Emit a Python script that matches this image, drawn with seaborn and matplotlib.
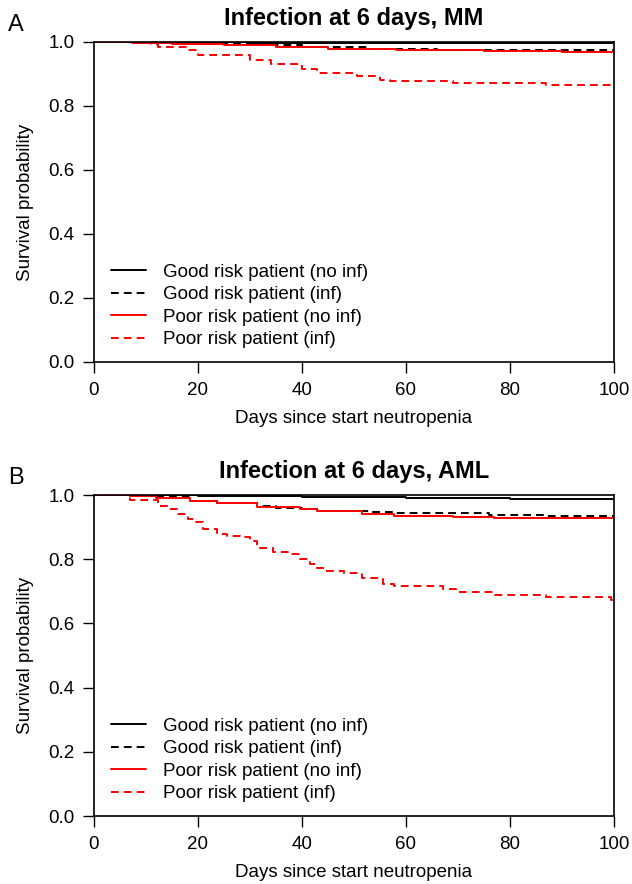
import numpy as np
import pandas as pd
import matplotlib
matplotlib.use("Agg")
import matplotlib.pyplot as plt
import seaborn as sns

sns.set_style("ticks")
plt.rcParams['font.family'] = ['Liberation Sans', 'DejaVu Sans']
plt.rcParams['text.color'] = 'black'
plt.rcParams['axes.labelcolor'] = 'black'

labels = ["Good risk patient (no inf)", "Good risk patient (inf)",
          "Poor risk patient (no inf)", "Poor risk patient (inf)"]
colors = ["black", "black", "red", "red"]
styles = ["-", "--", "-", "--"]

# MM panel (days, survival) step curves
mm_good_noinf_t = [0, 8, 30, 60, 100]
mm_good_noinf_s = [1.0, 0.999, 0.998, 0.997, 0.997]
mm_good_inf_t = [0, 8, 17, 30, 40, 53, 66, 100]
mm_good_inf_s = [1.0, 0.998, 0.995, 0.99, 0.985, 0.978, 0.975, 0.973]
mm_poor_noinf_t = [0, 8, 15, 25, 35, 45, 58, 75, 90, 100]
mm_poor_noinf_s = [1.0, 0.998, 0.994, 0.99, 0.985, 0.979, 0.974, 0.971, 0.968, 0.967]
mm_poor_inf_t = [0, 7, 11, 12.3, 18, 20, 30, 34, 40, 42.8, 50.5, 55, 57, 69, 87, 99.5, 100]
mm_poor_inf_s = [1.0, 0.997, 0.993, 0.985, 0.975, 0.96, 0.945, 0.93, 0.915, 0.904,
                 0.894, 0.882, 0.879, 0.872, 0.865, 0.858, 0.858]

# AML panel
aml_good_noinf_t = [0, 7, 20, 40, 60, 80, 100]
aml_good_noinf_s = [1.0, 0.999, 0.996, 0.993, 0.99, 0.987, 0.985]
aml_good_inf_t = [0, 7, 12, 18.5, 23.6, 31.3, 35, 40, 42.8, 53, 58, 76, 87, 100]
aml_good_inf_s = [1.0, 0.997, 0.993, 0.982, 0.975, 0.967, 0.96, 0.957, 0.951, 0.946,
                  0.944, 0.939, 0.935, 0.932]
aml_poor_noinf_t = [0, 7, 12, 18.5, 23.6, 31.3, 39.6, 42.8, 51.5, 57.6, 69, 77, 87, 100]
aml_poor_noinf_s = [1.0, 0.997, 0.99, 0.982, 0.974, 0.964, 0.957, 0.949, 0.942, 0.936,
                    0.931, 0.929, 0.927, 0.922]
aml_poor_inf_t = [0, 7, 12.4, 14.3, 16.2, 18.1, 19.7, 21.0, 23.6, 25.5, 28.1, 30, 31.3,
                  34.5, 37.7, 39.6, 41.5, 42.8, 44.7, 48, 51.5, 55.6, 57.6, 67.2, 69.7,
                  77.1, 87, 99.5, 100]
aml_poor_inf_s = [1.0, 0.985, 0.965, 0.956, 0.941, 0.925, 0.915, 0.894, 0.878, 0.873,
                  0.868, 0.857, 0.836, 0.821, 0.816, 0.80, 0.784, 0.772, 0.763, 0.756,
                  0.74, 0.722, 0.717, 0.708, 0.699, 0.69, 0.683, 0.672, 0.665]

panels = [
    ("A", "Infection at 6 days, MM",
     [(mm_good_noinf_t, mm_good_noinf_s), (mm_good_inf_t, mm_good_inf_s),
      (mm_poor_noinf_t, mm_poor_noinf_s), (mm_poor_inf_t, mm_poor_inf_s)]),
    ("B", "Infection at 6 days, AML",
     [(aml_good_noinf_t, aml_good_noinf_s), (aml_good_inf_t, aml_good_inf_s),
      (aml_poor_noinf_t, aml_poor_noinf_s), (aml_poor_inf_t, aml_poor_inf_s)]),
]

fig = plt.figure(figsize=(6.32, 8.84), dpi=100)
ax_pos = [[0.1487, 0.5905, 0.8228, 0.362], [0.1487, 0.0769, 0.8228, 0.3631]]
letter_y = [1 - 31 / 884, 1 - 484 / 884]

for (letter, title, curves), pos, ly in zip(panels, ax_pos, letter_y):
    ax = fig.add_axes(pos)
    for (t, s), lab, c, ls in zip(curves, labels, colors, styles):
        df = pd.DataFrame({"days": t, "surv": s})
        sns.lineplot(data=df, x="days", y="surv", ax=ax, color=c, linestyle=ls,
                     drawstyle="steps-post", linewidth=1.4, label=lab,
                     estimator=None, sort=False)
    for line in ax.get_lines():
        if line.get_linestyle() == "--":
            line.set_dashes((4, 2.6))
    ax.set_xlim(0, 100)
    ax.set_ylim(0, 1.0)
    ax.set_xticks(np.arange(0, 101, 20))
    ax.set_yticks(np.arange(0, 1.01, 0.2))
    ax.set_yticklabels([f"{v:.1f}" for v in np.arange(0, 1.01, 0.2)])
    ax.tick_params(direction="out", length=8, width=1, labelsize=13.5, colors="black")
    ax.tick_params(axis="x", pad=6.5)
    ax.tick_params(axis="y", pad=6)
    for sp in ax.spines.values():
        sp.set_visible(True)
        sp.set_linewidth(1.2)
        sp.set_color("black")
    ax.set_xlabel("Days since start neutropenia", fontsize=13.5, labelpad=8)
    ax.set_ylabel("Survival probability", fontsize=13.5, labelpad=10)
    ax.set_title(title, fontsize=17, fontweight="bold", pad=12)
    leg = ax.legend(loc="lower left", bbox_to_anchor=(0.018, 0.02), frameon=False,
                    fontsize=13.5, handlelength=1.9, handletextpad=0.9,
                    labelspacing=0.28, borderaxespad=0)
    for h in leg.get_lines():
        h.set_linewidth(1.4)
    fig.text(0.0127, ly, letter, fontsize=17, va="baseline")

plt.savefig("out.png", dpi=100)
